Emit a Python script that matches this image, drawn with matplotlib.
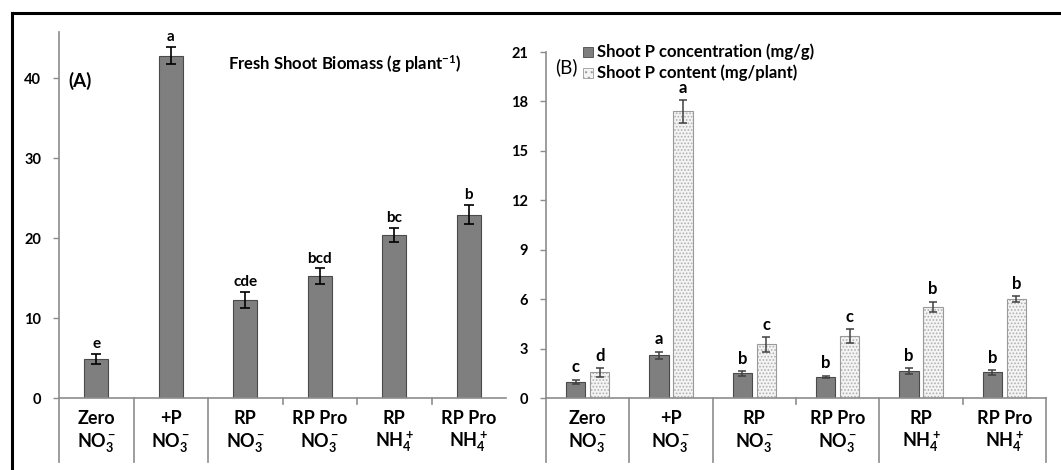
import matplotlib
matplotlib.use('Agg')
import matplotlib.pyplot as plt
import numpy as np
from matplotlib.transforms import blended_transform_factory
from matplotlib.lines import Line2D
from matplotlib.patches import Rectangle

plt.rcParams['font.family'] = ['Lato', 'DejaVu Sans']
plt.rcParams['font.weight'] = 'bold'
plt.rcParams['mathtext.fontset'] = 'custom'
plt.rcParams['mathtext.rm'] = 'Lato:bold'
plt.rcParams['mathtext.it'] = 'Lato:bold'
plt.rcParams['mathtext.bf'] = 'Lato:bold'
plt.rcParams['hatch.linewidth'] = 0.8

# data
treat_top = ['Zero', '+P', 'RP', 'RP Pro', 'RP', 'RP Pro']
treat_bottom = ['NO$_3^-$', 'NO$_3^-$', 'NO$_3^-$', 'NO$_3^-$', 'NH$_4^+$', 'NH$_4^+$']

biomass = [4.9, 42.8, 12.3, 15.2, 20.4, 22.9]
biomass_err = [0.6, 1.1, 1.0, 1.0, 0.9, 1.2]
biomass_letters = ['e', 'a', 'cde', 'bcd', 'bc', 'b']

p_conc = [1.0, 2.6, 1.5, 1.3, 1.65, 1.55]
p_conc_err = [0.12, 0.22, 0.15, 0.06, 0.18, 0.15]
p_conc_letters = ['c', 'a', 'b', 'b', 'b', 'b']

p_content = [1.55, 17.4, 3.25, 3.75, 5.55, 6.0]
p_content_err = [0.28, 0.7, 0.45, 0.42, 0.3, 0.17]
p_content_letters = ['d', 'a', 'c', 'c', 'b', 'b']

W, H = 1061, 470
AXIS_GREY = '#8c8c8c'
DARK = '#7f7f7f'
DARK_EDGE = '#4a4a4a'


def px_rect(x0, x1, ytop, ybot):
    return [x0 / W, 1 - ybot / H, (x1 - x0) / W, (ybot - ytop) / H]


def style_axes(ax, height_px, long_lines, short_lines):
    for s in ['top', 'right']:
        ax.spines[s].set_visible(False)
    for s in ['left', 'bottom']:
        ax.spines[s].set_color(AXIS_GREY)
        ax.spines[s].set_linewidth(1.2)
    ax.set_xlim(-0.5, 5.5)
    ax.set_xticks([])
    ax.tick_params(axis='y', direction='out', length=4.3, width=1,
                   color=AXIS_GREY, labelsize=10.5, pad=8.5)
    for lab in ax.get_yticklabels():
        lab.set_fontweight('bold')
    trans = blended_transform_factory(ax.transData, ax.transAxes)
    for x in long_lines:
        ax.plot([x, x], [0, -64 / height_px], transform=trans, color=AXIS_GREY,
                lw=1.2, clip_on=False)
    for x in short_lines:
        ax.plot([x, x], [0, -6 / height_px], transform=trans, color=AXIS_GREY,
                lw=1.2, clip_on=False)
    x = np.arange(len(treat_top))
    for i in x:
        ax.annotate(treat_top[i], xy=(i, 0), xycoords=trans, xytext=(0, -20 * 0.72),
                    textcoords='offset points', ha='center', va='center',
                    fontsize=13, fontweight='bold')
        ax.annotate(treat_bottom[i], xy=(i, 0), xycoords=trans, xytext=(0, -44 * 0.72),
                    textcoords='offset points', ha='center', va='center',
                    fontsize=13, fontweight='bold')


def letters(ax, xs, vals, errs, labs, size, gap):
    for xi, v, e, l in zip(xs, vals, errs, labs):
        ax.annotate(l, xy=(xi, v + e), xytext=(0, gap), textcoords='offset points',
                    ha='center', va='bottom', fontsize=size, fontweight='bold')


fig = plt.figure(figsize=(W / 100, H / 100), dpi=100)

# ---- panel A
axA = fig.add_axes(px_rect(59, 506, 32, 398))
x = np.arange(len(biomass))
axA.bar(x, biomass, width=0.32, color=DARK, edgecolor=DARK_EDGE, linewidth=0.8)
axA.errorbar(x, biomass, yerr=biomass_err, fmt='none', ecolor='black',
             elinewidth=1.2, capsize=3.5, capthick=1.2)
axA.set_ylim(0, 45.75)
axA.set_yticks([0, 10, 20, 30, 40])
style_axes(axA, 366, [-0.5, 0.5, 1.5], [2.5, 3.5, 4.5])
letters(axA, x, biomass, biomass_err, biomass_letters, 11, 2)
fig.text(345 / W, 1 - 64 / H, 'Fresh Shoot Biomass (g plant$^{-1}$)', ha='center',
         va='center', fontsize=12, fontweight='bold')
fig.text(80 / W, 1 - 81 / H, '(A)', ha='center', va='center', fontsize=13.5,
         fontweight='bold')

# ---- panel B
axB = fig.add_axes(px_rect(546, 1046, 52, 398))
off, bw = 0.144, 0.234
axB.bar(x - off, p_conc, width=bw, color=DARK, edgecolor=DARK_EDGE, linewidth=0.8,
        label='Shoot P concentration (mg/g)')
axB.bar(x + off, p_content, width=bw, color='#f4f4f4', edgecolor='#b0b0b0',
        hatch='.....', linewidth=0)
axB.bar(x + off, p_content, width=bw, fill=False, edgecolor='#9a9a9a', linewidth=0.8)
axB.errorbar(x - off, p_conc, yerr=p_conc_err, fmt='none', ecolor='#404040',
             elinewidth=1.1, capsize=3, capthick=1.1)
axB.errorbar(x + off, p_content, yerr=p_content_err, fmt='none', ecolor='#404040',
             elinewidth=1.1, capsize=3, capthick=1.1)
axB.set_ylim(0, 21)
axB.set_yticks([0, 3, 6, 9, 12, 15, 18, 21])
style_axes(axB, 346, [-0.5, 0.5, 1.5, 3.5, 5.5], [2.5, 4.5])
letters(axB, x - off, p_conc, p_conc_err, p_conc_letters, 12, 3)
letters(axB, x + off, p_content, p_content_err, p_content_letters, 12, 3)

fig.text(566 / W, 1 - 67 / H, '(B)', ha='center', va='center', fontsize=13.5,
         fontweight='normal')
# legend (drawn by hand to match the compact Excel layout)
fig.patches.append(Rectangle((583 / W, 1 - 57 / H), 10 / W, 10 / H, transform=fig.transFigure,
                             facecolor=DARK, edgecolor=DARK_EDGE, lw=0.6))
fig.patches.append(Rectangle((583 / W, 1 - 78 / H), 10 / W, 10 / H, transform=fig.transFigure,
                             facecolor='#f4f4f4', edgecolor='#9a9a9a', lw=0.6, hatch='...'))
fig.text(597 / W, 1 - 52 / H, 'Shoot P concentration (mg/g)', ha='left', va='center',
         fontsize=12, fontweight='bold')
fig.text(597 / W, 1 - 73 / H, 'Shoot P content (mg/plant)', ha='left', va='center',
         fontsize=12, fontweight='bold')

# outer frame
fig.lines.append(Line2D([12 / W, 1], [1 - 13 / H, 1 - 13 / H], transform=fig.transFigure,
                        color='black', lw=2.2))
fig.lines.append(Line2D([12 / W, 12 / W], [0, 1 - 13 / H], transform=fig.transFigure,
                        color='black', lw=2.2))

fig.savefig('out.png', dpi=100)
